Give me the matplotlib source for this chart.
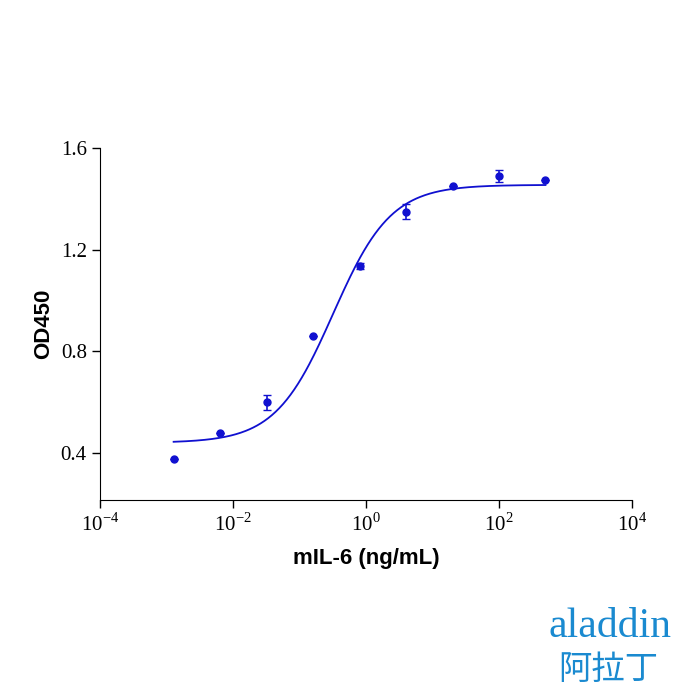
import numpy as np
import matplotlib
matplotlib.use("Agg")
import matplotlib.pyplot as plt
plt.rcParams["mathtext.fontset"] = "custom"
plt.rcParams["mathtext.rm"] = "Liberation Serif"
plt.rcParams["axes.unicode_minus"] = False

conc = [0.00128, 0.0064, 0.032, 0.16, 0.8, 4, 20, 100, 500]
od = [0.376, 0.479, 0.60, 0.86, 1.135, 1.35, 1.45, 1.49, 1.475]
err = [0.0, 0.0, 0.03, 0.0, 0.012, 0.03, 0.0, 0.025, 0.0]
fit_bottom, fit_top, fit_ec50, fit_hill = 0.44, 1.455, 0.32, 1.0

fig = plt.figure(figsize=(7, 7), dpi=100)
ax = fig.add_axes([100/700, 200/700, 532/700, 352/700])
col = "#1010d0"
xs = np.logspace(np.log10(conc[0]), np.log10(conc[-1]), 300)
ys = fit_bottom + (fit_top - fit_bottom) / (1 + (fit_ec50 / xs) ** fit_hill)
ax.plot(xs, ys, color=col, lw=1.3)
ax.errorbar(conc, od, yerr=err, fmt="o", color=col, ms=5, capsize=3, elinewidth=1.2)
ax.set_xscale("log")
ax.set_xlim(1e-4, 1e4)
ax.set_ylim(0.215, 1.6)
ax.set_xticks([1e-4, 1e-2, 1, 1e2, 1e4])
ax.set_xticklabels([r"10$^{\mathrm{-4}}$", r"10$^{\mathrm{-2}}$", r"10$^{\mathrm{0}}$", r"10$^{\mathrm{2}}$", r"10$^{\mathrm{4}}$"])
ax.minorticks_off()
ax.set_yticks([0.4, 0.8, 1.2, 1.6])
ax.set_yticklabels(["0.4", "0.8", "1.2", "1.6"])
for s in ["top", "right"]:
    ax.spines[s].set_visible(False)
for lab in ax.get_xticklabels() + ax.get_yticklabels():
    lab.set_fontfamily("Liberation Serif")
    lab.set_fontsize(15)
ax.tick_params(length=6, width=1)
ax.set_xlabel("mIL-6 (ng/mL)", fontfamily="Liberation Sans", fontweight="bold", fontsize=16, labelpad=9)
ax.set_ylabel("OD450", fontfamily="Liberation Sans", fontweight="bold", fontsize=16, labelpad=5)
fig.text(0.96, 0.09, "aladdin", color="#1a8ad0", fontsize=30, fontfamily="Liberation Serif", ha="right")
fig.text(0.94, 0.03, "阿拉丁", color="#1a8ad0", fontsize=24, fontfamily="Noto Sans CJK JP", ha="right")
fig.savefig("out.png", dpi=100)
